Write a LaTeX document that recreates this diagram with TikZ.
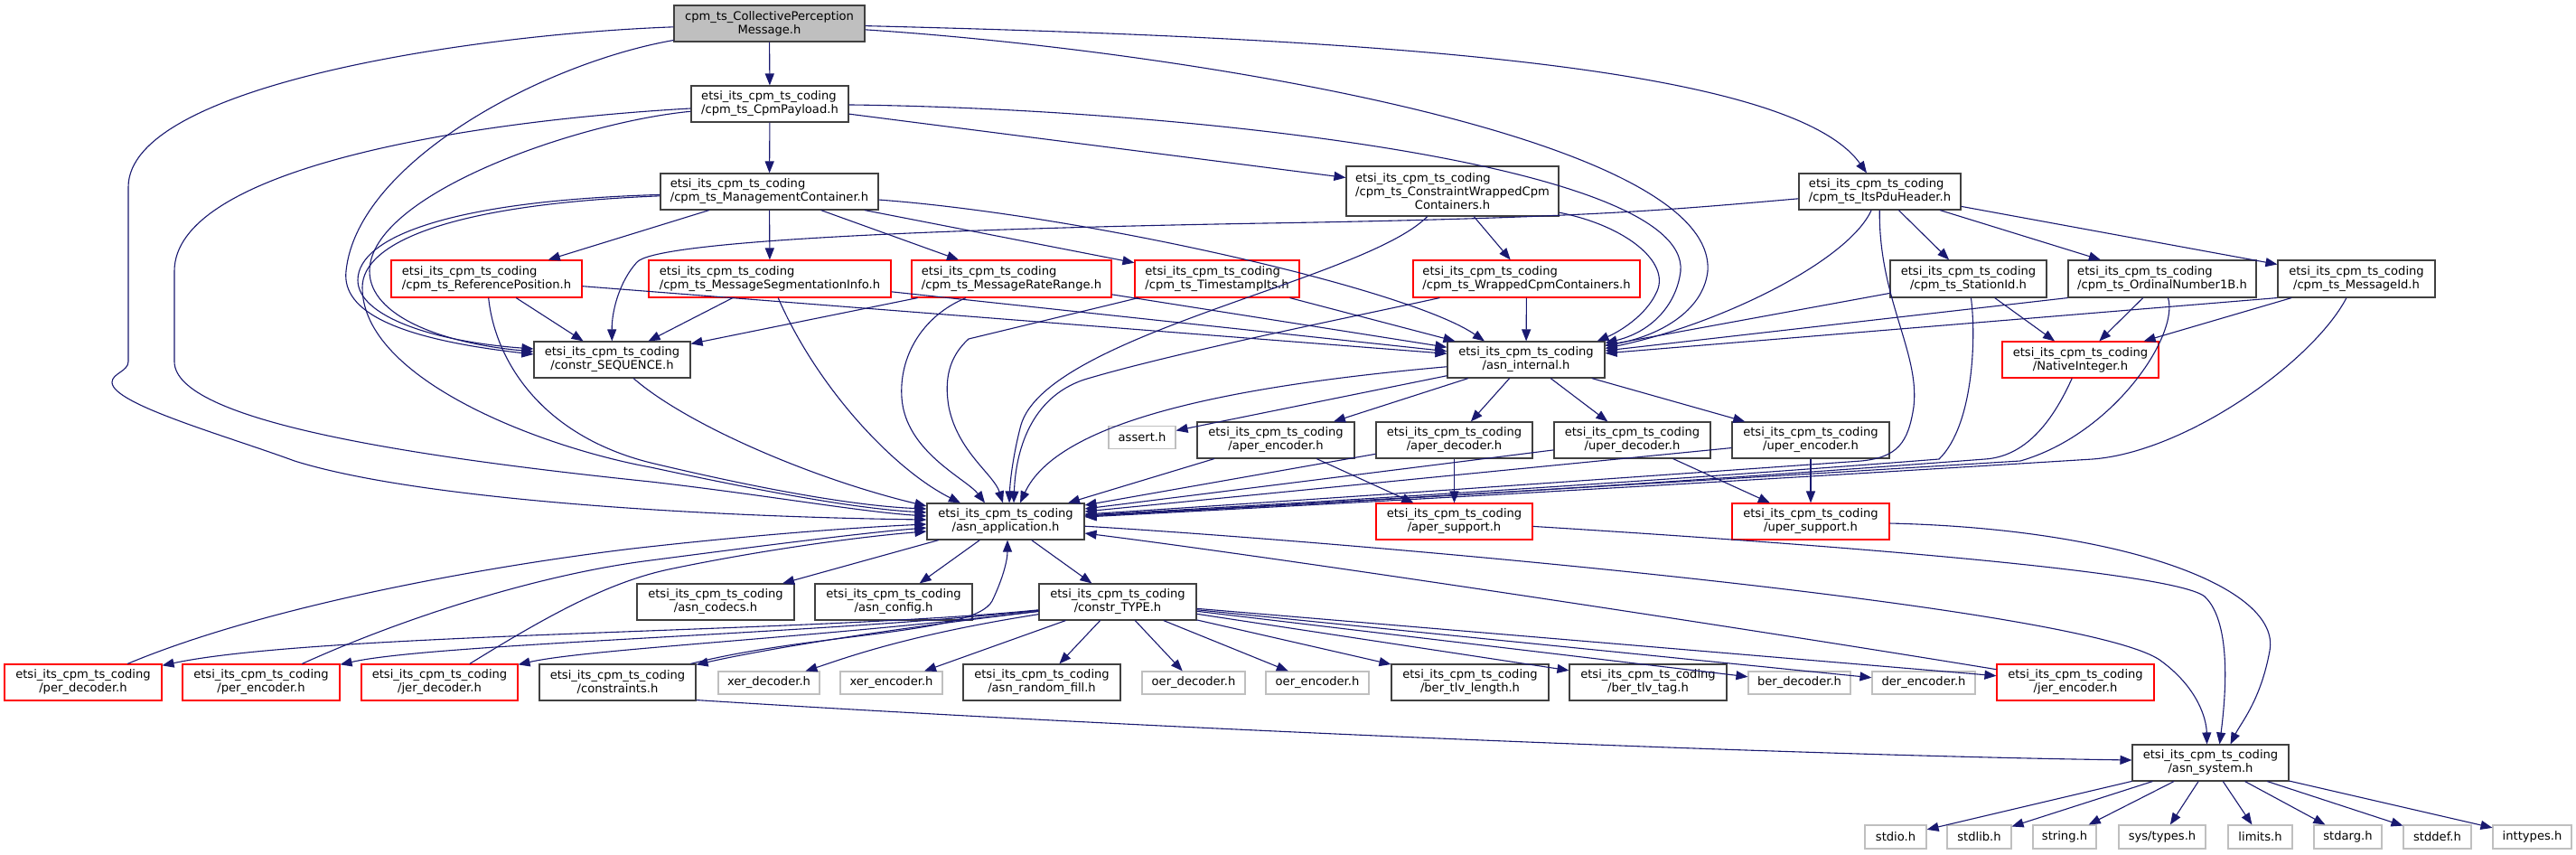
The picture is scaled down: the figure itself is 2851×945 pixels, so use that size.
\documentclass[tikz,border=0pt]{standalone}
\usepackage{fontspec}
\setmainfont{DejaVu Sans}
\usetikzlibrary{arrows.meta}
\definecolor{edgec}{HTML}{191970}
\definecolor{nodeb}{HTML}{404040}
\definecolor{greyb}{HTML}{BFBFBF}
\newlength\lwA \newlength\lwB
\newcommand\twol[2]{\settowidth\lwA{#1}\settowidth\lwB{#2}\ifdim\lwA<\lwB\makebox[\lwB][l]{#1}\else#1\fi\\#2}
\newcommand\etsi{etsi\_its\_cpm\_ts\_coding}
\newcommand\nfont{\fontsize{13.1pt}{15pt}\selectfont}
\tikzset{
  bx/.style={draw=nodeb, fill=white, line width=1.1pt, inner sep=0pt, align=center, font=\nfont},
  rbx/.style={bx, draw=red},
  gbx/.style={bx, draw=greyb},
  root/.style={bx, fill=greyb},
  sz/.style 2 args={minimum width=#1pt, minimum height=#2pt},
  ed/.style={draw=edgec, line width=1.1pt, -{Triangle[length=13pt,width=10pt]}}
}
\begin{document}
\begin{tikzpicture}[x=1pt,y=-1pt]
\fill[white] (0,0) rectangle (2851,945);
\useasboundingbox (0,0) rectangle (2851,945);
% nodes
\node[root, sz={211}{40}] (CPM) at (851.5,26) {cpm\_ts\_CollectivePerception\\Message.h};
\node[bx, sz={174}{40}] (PAY) at (852,115) {\twol{\etsi}{/cpm\_ts\_CpmPayload.h}};
\node[bx, sz={241}{40}] (MGT) at (851.5,212) {\twol{\etsi}{/cpm\_ts\_ManagementContainer.h}};
\node[bx, sz={235}{55}] (CWC) at (1607.5,211.5) {\twol{\etsi}{/cpm\_ts\_ConstraintWrappedCpm}\\Containers.h};
\node[bx, sz={179}{40}] (PDU) at (2080.5,212) {\twol{\etsi}{/cpm\_ts\_ItsPduHeader.h}};
\node[rbx, sz={211}{41}] (REF) at (538.5,308.5) {\twol{\etsi}{/cpm\_ts\_ReferencePosition.h}};
\node[rbx, sz={268}{41}] (SEG) at (852,308.5) {\twol{\etsi}{/cpm\_ts\_MessageSegmentationInfo.h}};
\node[rbx, sz={221}{41}] (RATE) at (1119.5,308.5) {\twol{\etsi}{/cpm\_ts\_MessageRateRange.h}};
\node[rbx, sz={182}{41}] (TS) at (1347,308.5) {\twol{\etsi}{/cpm\_ts\_TimestampIts.h}};
\node[rbx, sz={251}{41}] (WRAP) at (1689.5,308.5) {\twol{\etsi}{/cpm\_ts\_WrappedCpmContainers.h}};
\node[bx, sz={173}{41}] (STA) at (2178.5,308.5) {\twol{\etsi}{/cpm\_ts\_StationId.h}};
\node[bx, sz={208}{41}] (ORD) at (2393,308.5) {\twol{\etsi}{/cpm\_ts\_OrdinalNumber1B.h}};
\node[bx, sz={174}{41}] (MID) at (2608,308.5) {\twol{\etsi}{/cpm\_ts\_MessageId.h}};
\node[bx, sz={173}{40}] (SEQ) at (677.5,398) {\twol{\etsi}{/constr\_SEQUENCE.h}};
\node[bx, sz={174}{40}] (INT) at (1689,398) {\twol{\etsi}{/asn\_internal.h}};
\node[rbx, sz={173}{40}] (NAT) at (2302.5,398) {\twol{\etsi}{/NativeInteger.h}};
\node[gbx, sz={74}{25}] (ASSERT) at (1264,484) {assert.h};
\node[bx, sz={174}{40}] (APE) at (1412,487) {\twol{\etsi}{/aper\_encoder.h}};
\node[bx, sz={173}{40}] (APD) at (1609.5,487) {\twol{\etsi}{/aper\_decoder.h}};
\node[bx, sz={173}{40}] (UPD) at (1806.5,487) {\twol{\etsi}{/uper\_decoder.h}};
\node[bx, sz={174}{40}] (UPE) at (2004,487) {\twol{\etsi}{/uper\_encoder.h}};
\node[bx, sz={174}{40}] (APP) at (1113,577) {\twol{\etsi}{/asn\_application.h}};
\node[rbx, sz={173}{40}] (APS) at (1609.5,577) {\twol{\etsi}{/aper\_support.h}};
\node[rbx, sz={174}{40}] (UPS) at (2004,577) {\twol{\etsi}{/uper\_support.h}};
\node[bx, sz={174}{40}] (CODECS) at (792,666) {\twol{\etsi}{/asn\_codecs.h}};
\node[bx, sz={174}{40}] (CONFIG) at (989,666) {\twol{\etsi}{/asn\_config.h}};
\node[bx, sz={174}{40}] (TYPE) at (1237,666) {\twol{\etsi}{/constr\_TYPE.h}};
\node[rbx, sz={174}{40}] (PERD) at (92,755) {\twol{\etsi}{/per\_decoder.h}};
\node[rbx, sz={174}{40}] (PERE) at (289,755) {\twol{\etsi}{/per\_encoder.h}};
\node[rbx, sz={173}{40}] (JERD) at (486.5,755) {\twol{\etsi}{/jer\_decoder.h}};
\node[bx, sz={173}{40}] (CONS) at (683.5,755) {\twol{\etsi}{/constraints.h}};
\node[gbx, sz={112}{25}] (XERD) at (851,755.5) {xer\_decoder.h};
\node[gbx, sz={113}{25}] (XERE) at (986.5,755.5) {xer\_encoder.h};
\node[bx, sz={174}{40}] (RAND) at (1153,755) {\twol{\etsi}{/asn\_random\_fill.h}};
\node[gbx, sz={114}{25}] (OERD) at (1321,755.5) {oer\_decoder.h};
\node[gbx, sz={114}{25}] (OERE) at (1458,755.5) {oer\_encoder.h};
\node[bx, sz={174}{40}] (BERL) at (1627,755) {\twol{\etsi}{/ber\_tlv\_length.h}};
\node[bx, sz={174}{40}] (BERT) at (1824,755) {\twol{\etsi}{/ber\_tlv\_tag.h}};
\node[gbx, sz={113}{25}] (BERD) at (1991.5,755.5) {ber\_decoder.h};
\node[gbx, sz={114}{25}] (DERE) at (2129,755.5) {der\_encoder.h};
\node[rbx, sz={174}{40}] (JERE) at (2297,755) {\twol{\etsi}{/jer\_encoder.h}};
\node[bx, sz={173}{40}] (SYS) at (2446.5,844) {\twol{\etsi}{/asn\_system.h}};
\node[gbx, sz={68}{26}] (STDIO) at (2098,926) {stdio.h};
\node[gbx, sz={71}{26}] (STDLIB) at (2190.5,926) {stdlib.h};
\node[gbx, sz={70}{26}] (STRING) at (2285,926) {string.h};
\node[gbx, sz={96}{26}] (SYSTYPES) at (2393,926) {sys/types.h};
\node[gbx, sz={71}{26}] (LIMITS) at (2501.5,926) {limits.h};
\node[gbx, sz={75}{26}] (STDARG) at (2598.5,926) {stdarg.h};
\node[gbx, sz={75}{26}] (STDDEF) at (2697.5,926) {stddef.h};
\node[gbx, sz={87}{26}] (INTTYPES) at (2802.5,926) {inttypes.h};
% edges from root
\draw[ed] (CPM) -- (PAY);
\draw[ed] (CPM) .. controls (520,38) and (142,95) .. (142,207) -- (142,400) .. controls (142,411) and (124,413) .. (124,423) .. controls (124,447) and (250,482) .. (326,510) .. controls (470,555) and (800,572) .. ([yshift=2pt]APP.west);
\draw[ed] (CPM) .. controls (600,70) and (395,180) .. (383,300) .. controls (378,345) and (440,375) .. ([yshift=6pt]SEQ.west);
\draw[ed] (CPM) .. controls (1300,55) and (1900,150) .. (1890,300) .. controls (1885,345) and (1835,372) .. ([yshift=-5pt]INT.north east);
\draw[ed] (CPM) .. controls (1500,42) and (1980,70) .. (PDU);
% payload
\draw[ed] (PAY) -- (MGT);
\draw[ed] (PAY) -- (CWC);
\draw[ed] (PAY) .. controls (640,135) and (409,215) .. (409,300) .. controls (409,350) and (490,380) .. ([yshift=9pt]SEQ.west);
\draw[ed] (PAY) .. controls (500,135) and (193,190) .. (193,300) -- (193,400) .. controls (193,465) and (450,505) .. (720,533) .. controls (850,548) and (950,566) .. ([yshift=6pt]APP.west);
\draw[ed] (PAY) .. controls (1300,120) and (1870,180) .. (1860,300) .. controls (1855,340) and (1825,368) .. ([yshift=-2pt]INT.north east);
% management container
\draw[ed] (MGT) -- (REF);
\draw[ed] (MGT) -- (SEG);
\draw[ed] (MGT) -- (RATE);
\draw[ed] (MGT) -- (TS);
\draw[ed] (MGT) .. controls (1200,238) and (1560,320) .. ([xshift=-46pt]INT.north);
\draw[ed] (MGT) .. controls (500,222) and (396,262) .. (396,310) .. controls (396,350) and (480,378) .. ([yshift=12pt]SEQ.west);
\draw[ed] (MGT) .. controls (500,226) and (401,268) .. (401,318) .. controls (401,420) and (600,495) .. (720,517) .. controls (850,545) and (950,563) .. ([yshift=10pt]APP.west);
% constraint wrapped
\draw[ed] (CWC) -- (WRAP);
\draw[ed] (CWC) .. controls (1800,250) and (1848,290) .. (1834,322) .. controls (1822,350) and (1790,368) .. ([xshift=-9pt]INT.north east);
\draw[ed] (CWC) .. controls (1510,310) and (1160,370) .. (1130,470) .. controls (1122,500) and (1118,530) .. ([xshift=4pt]APP.north);
% its pdu header
\draw[ed] (PDU) -- (STA);
\draw[ed] (PDU) -- (ORD);
\draw[ed] (PDU) -- (MID);
\draw[ed] (PDU) .. controls (1850,232) and (1760,241) .. (1400,247) .. controls (1000,254) and (725,268) .. (705,290) .. controls (685,312) and (677,345) .. (SEQ);
\draw[ed] (PDU) .. controls (2045,290) and (1900,360) .. ([yshift=-8pt]INT.north east);
\draw[ed] (PDU) .. controls (2079,330) and (2125,390) .. (2118,450) .. controls (2112,490) and (2100,506) .. (2060,510) .. controls (1750,532) and (1450,553) .. ([yshift=8pt]APP.east);
% row 3
\draw[ed] (REF) -- (SEQ);
\draw[ed] (REF) -- (INT);
\draw[ed] (REF) .. controls (548,400) and (600,482) .. (720,512) .. controls (850,543) and (950,560) .. ([yshift=14pt]APP.west);
\draw[ed] (SEG) -- (SEQ);
\draw[ed] (SEG) -- (INT);
\draw[ed] (SEG) .. controls (905,430) and (990,520) .. ([xshift=-50pt]APP.north);
\draw[ed] (RATE) -- (SEQ);
\draw[ed] (RATE) -- (INT);
\draw[ed] (RATE) .. controls (1020,350) and (995,395) .. (998,440) .. controls (1002,500) and (1070,530) .. ([xshift=-23pt]APP.north);
\draw[ed] (TS) -- (INT);
\draw[ed] (TS) -- (1072,375) .. controls (1050,395) and (1045,420) .. (1050,450) .. controls (1060,500) and (1100,525) .. ([xshift=-3pt]APP.north);
\draw[ed] (WRAP) -- (INT);
\draw[ed] (WRAP) .. controls (1500,350) and (1300,390) .. (1200,420) .. controls (1140,440) and (1124,500) .. ([xshift=9pt]APP.north);
\draw[ed] (STA) -- (INT);
\draw[ed] (STA) -- (NAT);
\draw[ed] (STA) .. controls (2187,370) and (2185,470) .. (2146,508) .. controls (1800,535) and (1450,556) .. ([yshift=7pt]APP.east);
\draw[ed] (ORD.south west) -- (INT);
\draw[ed] (ORD) -- (NAT);
\draw[ed] (ORD) .. controls (2412,370) and (2340,480) .. (2236,510) .. controls (1800,537) and (1450,557) .. ([yshift=6pt]APP.east);
\draw[ed] (MID.south west) -- (INT);
\draw[ed] (MID) -- (NAT);
\draw[ed] (MID) .. controls (2560,400) and (2420,500) .. (2316,508) .. controls (1800,540) and (1450,559) .. ([yshift=5pt]APP.east);
\draw[ed] (NAT) .. controls (2270,470) and (2240,505) .. (2197,508) .. controls (1800,538) and (1450,558) .. ([yshift=6pt]APP.east);
% constr sequence, asn_internal
\draw[ed] (SEQ) .. controls (760,470) and (900,530) .. ([yshift=17pt]APP.west);
\draw[ed] (INT) -- (ASSERT);
\draw[ed] (INT) .. controls (1350,428) and (1170,468) .. ([xshift=16pt]APP.north);
\draw[ed] (INT) -- (APE);
\draw[ed] (INT) -- (APD);
\draw[ed] (INT) -- (UPD);
\draw[ed] (INT) -- (UPE);
% encoders / decoders
\draw[ed] (APE) -- ([xshift=69pt]APP.north);
\draw[ed] (APE) -- (APS);
\draw[ed] (APD) -- (APS);
\draw[ed] (APD) -- ([yshift=18pt]APP.east);
\draw[ed] (UPD) -- ([yshift=14pt]APP.east);
\draw[ed] (UPD) -- (UPS);
\draw[ed] (UPE) -- (UPS);
\draw[ed] (UPE) -- ([yshift=11pt]APP.east);
% asn_application
\draw[ed] (APP) -- (CODECS);
\draw[ed] (APP) -- (CONFIG);
\draw[ed] (APP) -- (TYPE);
\draw[ed] (APP) .. controls (1500,600) and (2300,670) .. (2390,730) .. controls (2432,760) and (2442,795) .. ([xshift=-4pt]SYS.north);
\draw[ed] (APS) .. controls (1900,595) and (2400,628) .. (2440,660) .. controls (2472,690) and (2462,780) .. ([xshift=10pt]SYS.north);
\draw[ed] (UPS) .. controls (2350,585) and (2525,650) .. (2512,720) .. controls (2502,775) and (2480,800) .. ([xshift=22pt]SYS.north);
% constr_TYPE
\draw[ed] (TYPE) .. controls (900,700) and (350,700) .. (PERD);
\draw[ed] (TYPE) .. controls (900,702) and (480,712) .. (PERE);
\draw[ed] (TYPE) .. controls (900,706) and (650,718) .. (JERD);
\draw[ed] (TYPE) .. controls (950,700) and (830,722) .. (CONS);
\draw[ed] (TYPE) .. controls (1000,703) and (930,730) .. (XERD);
\draw[ed] (TYPE) -- (XERE);
\draw[ed] (TYPE) -- (RAND);
\draw[ed] (TYPE) -- (OERD);
\draw[ed] (TYPE) -- (OERE);
\draw[ed] (TYPE) -- (BERL);
\draw[ed] (TYPE) -- (BERT);
\draw[ed] (TYPE) -- (BERD);
\draw[ed] (TYPE) -- (DERE);
\draw[ed] (TYPE) -- (JERE);
% bottom row back to asn_application
\draw[ed] (PERD) .. controls (300,668) and (550,625) .. (700,607) .. controls (850,590) and (960,583) .. ([yshift=-3pt]APP.west);
\draw[ed] (PERE) .. controls (450,682) and (600,635) .. (720,620) .. controls (850,603) and (960,589) .. ([yshift=-7pt]APP.west);
\draw[ed] (JERD) .. controls (600,685) and (670,645) .. (740,630) .. controls (850,607) and (960,593) .. ([yshift=-11pt]APP.west);
\draw[ed] (CONS) .. controls (900,700) and (1078,702) .. (1098,665) .. controls (1110,640) and (1115,620) .. ([xshift=2pt]APP.south);
\draw[ed] (JERE) .. controls (1900,690) and (1400,615) .. ([yshift=-13pt]APP.east);
\draw[ed] ([yshift=1pt]CONS.south east) .. controls (1300,808) and (2000,836) .. ([yshift=3pt]SYS.west);
% asn_system
\draw[ed] (SYS) -- (STDIO);
\draw[ed] (SYS) -- (STDLIB);
\draw[ed] (SYS) -- (STRING);
\draw[ed] (SYS) -- (SYSTYPES);
\draw[ed] (SYS) -- (LIMITS);
\draw[ed] (SYS) -- (STDARG);
\draw[ed] (SYS) -- (STDDEF);
\draw[ed] (SYS) -- (INTTYPES);
\end{tikzpicture}
\end{document}
